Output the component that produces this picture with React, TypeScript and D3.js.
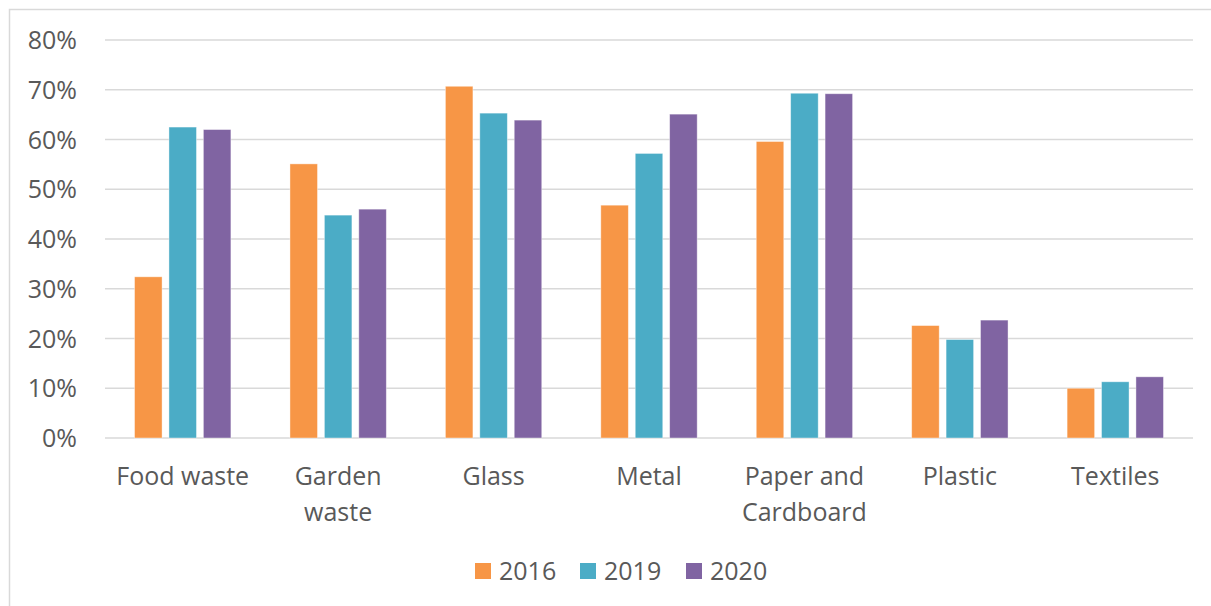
import React from "react";
import * as d3 from "d3";

const categories: string[][] = [
  ["Food waste"],
  ["Garden", "waste"],
  ["Glass"],
  ["Metal"],
  ["Paper and", "Cardboard"],
  ["Plastic"],
  ["Textiles"],
];
const seriesNames = ["2016", "2019", "2020"];
const values2016 = [32.4, 55.1, 70.7, 46.8, 59.6, 22.6, 10.0];
const values2019 = [62.5, 44.8, 65.3, 57.2, 69.3, 19.8, 11.3];
const values2020 = [62.0, 46.0, 63.9, 65.1, 69.2, 23.7, 12.3];
const yTicks = [0, 10, 20, 30, 40, 50, 60, 70, 80];
const colors = ["#F79646", "#4BACC6", "#8064A2"];

const W = 1211;
const H = 606;
const left = 105;
const right = 1193;
const top = 40;
const bottom = 438;
const FONT = "'Open Sans', sans-serif";
const TEXT = "#595959";
const FS = 25;

export default function App() {
  const series = [values2016, values2019, values2020];
  const x0 = d3
    .scaleBand<number>()
    .domain(d3.range(categories.length))
    .range([left, right])
    .paddingInner(0.38)
    .paddingOuter(0.19);
  const x1 = d3
    .scaleBand<number>()
    .domain([0, 1, 2])
    .range([0, x0.bandwidth()])
    .paddingInner(0.2);
  const y = d3.scaleLinear().domain([0, 80]).range([bottom, top]);

  const legendX = [475, 580, 686];

  return (
    <svg
      width={W}
      height={H}
      style={{ position: "absolute", left: 0, top: 0, background: "#fff" }}
      fontFamily={FONT}
    >
      <rect x={0} y={0} width={W} height={H} fill="#fff" />
      <rect x={9.5} y={9.5} width={W + 20} height={H + 20} fill="none" stroke="#d9d9d9" strokeWidth={1.5} />
      {yTicks.map((t) => (
        <g key={t}>
          <line x1={left} x2={right} y1={y(t)} y2={y(t)} stroke="#d9d9d9" strokeWidth={1.5} />
          <text x={77} y={y(t)} dy={9} textAnchor="end" fontSize={FS} fill={TEXT}>
            {t}%
          </text>
        </g>
      ))}
      {categories.map((c, i) => (
        <g key={i}>
          {series.map((s, j) => (
            <rect
              key={j}
              x={(x0(i) as number) + (x1(j) as number)}
              y={y(s[i])}
              width={x1.bandwidth()}
              height={bottom - y(s[i])}
              fill={colors[j]}
              stroke="#ffffff"
              strokeOpacity={0.5}
              strokeWidth={0.8}
            />
          ))}
          {c.map((line, k) => (
            <text
              key={k}
              x={(x0(i) as number) + x0.bandwidth() / 2}
              y={485 + k * 36}
              textAnchor="middle"
              fontSize={FS}
              fill={TEXT}
            >
              {line}
            </text>
          ))}
        </g>
      ))}
      {seriesNames.map((n, j) => (
        <g key={n}>
          <rect x={legendX[j]} y={563} width={16} height={16} fill={colors[j]} />
          <text x={legendX[j] + 24} y={580} fontSize={FS} fill={TEXT}>
            {n}
          </text>
        </g>
      ))}
    </svg>
  );
}
